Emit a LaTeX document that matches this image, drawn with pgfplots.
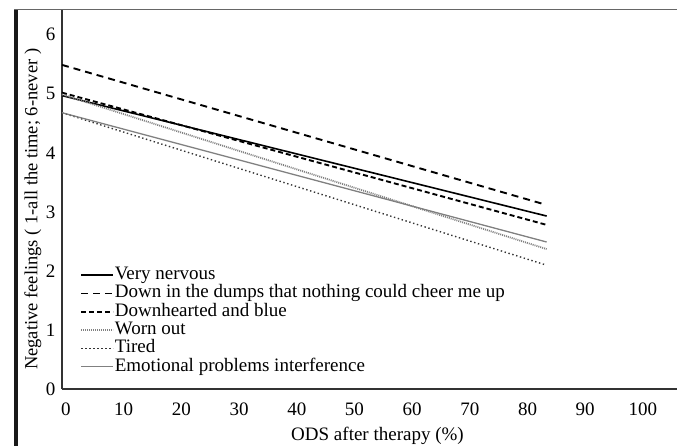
\documentclass[border=0pt]{standalone}
\usepackage{fontspec}
\setmainfont{Liberation Serif}
\usepackage{pgfplots}
\pgfplotsset{compat=1.18}
\definecolor{axisgray}{HTML}{333333}
\definecolor{lgray}{HTML}{808080}
\begin{document}
\begin{tikzpicture}
\fontsize{19bp}{22bp}\selectfont
\path[use as bounding box] (-62bp,-57bp) rectangle (615bp,389bp);
\begin{axis}[
  at={(0,0)}, anchor=south west,
  scale only axis, width=615bp, height=379bp,
  xmin=0, xmax=106.6, ymin=0, ymax=6.42,
  axis x line*=bottom, axis y line*=left,
  axis line style={-, draw=axisgray, line width=1.6bp},
  xtick={0,10,...,100}, ytick={0,1,...,6},
  major tick length=0pt, tick style={draw=none},
  /pgf/number format/assume math mode=true,
  tick label style={font=\fontsize{19bp}{21bp}\selectfont, text=black},
  xticklabel style={yshift=-7bp, xshift=4bp},
  xlabel={ODS after therapy (\%)},
  ylabel={Negative feelings ( 1-all the time; 6-never )},
  xlabel style={font=\fontsize{19bp}{21bp}\selectfont, at={(axis description cs:0.513,-0.124)}, anchor=center},
  ylabel style={font=\fontsize{18.5bp}{21bp}\selectfont, at={(axis description cs:-0.0472,0.474)}, anchor=center},
  clip=false,
  legend image code/.code={\draw[#1] (0bp,0bp) -- (32bp,0bp);},
  legend cell align=left,
  legend style={draw=none, fill=none, inner sep=0pt, outer sep=0pt,
    at={(axis description cs:0.030,0.3245)}, anchor=north west,
    row sep=0pt, column sep=0pt,
    font=\fontsize{19bp}{21bp}\selectfont,
    nodes={inner sep=0.5bp, text height=13bp, text depth=4.3bp}},
]
\addplot[black, line width=1.6bp] coordinates {(0,4.97) (84,2.93)};
\addlegendentry{Very nervous}
\addplot[black, line width=1.9bp, dash pattern=on 7bp off 5bp] coordinates {(0,5.49) (83.2,3.14)};
\addlegendentry{Down in the dumps that nothing could cheer me up}
\addplot[black, line width=1.9bp, dash pattern=on 5bp off 3bp] coordinates {(0,5.02) (84,2.78)};
\addlegendentry{Downhearted and blue}
\addplot[lgray, line width=1.8bp, dash pattern=on 1bp off 1bp] coordinates {(0,4.99) (84,2.37)};
\addlegendentry{Worn out}
\addplot[black!80, line width=1.4bp, dash pattern=on 1.4bp off 2.6bp] coordinates {(0,4.68) (83.9,2.10)};
\addlegendentry{Tired}
\addplot[lgray, line width=1.3bp] coordinates {(0,4.68) (84,2.49)};
\addlegendentry{Emotional problems interference}
\end{axis}
\draw[black!90, line width=3.2bp] (-46bp,-57bp) -- (-46bp,379bp);
\draw[black!60, line width=1bp] (-47.6bp,379bp) -- (615bp,379bp);
\end{tikzpicture}
\end{document}
